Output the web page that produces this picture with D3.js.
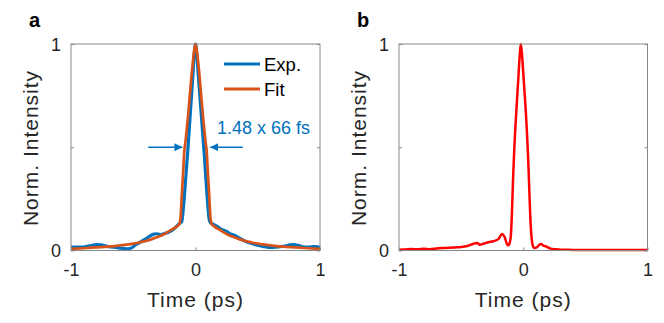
<!DOCTYPE html>
<html lang="en">
<head>
<meta charset="utf-8">
<script src="https://d3js.org/d3.v7.min.js"></script>
<style>
  body { margin: 0; background: #fff; }
  svg { display: block; font-family: "Liberation Sans", Arial, sans-serif; }
</style>
</head>
<body>
<script>
// panel a: measured autocorrelation and its fit
const expTime = [-1.00, -0.96, -0.92, -0.88, -0.84, -0.80, -0.76, -0.72, -0.68, -0.64,
  -0.60, -0.56, -0.52, -0.48, -0.44, -0.40, -0.37, -0.34, -0.31, -0.28, -0.25, -0.21,
  -0.18, -0.15, -0.13, -0.12, -0.11, -0.10, -0.09, -0.08, -0.07, -0.06, -0.05, -0.04,
  -0.03, -0.02, -0.01, 0.00, 0.01, 0.02, 0.03, 0.04, 0.05, 0.06, 0.07, 0.08, 0.09,
  0.10, 0.11, 0.12, 0.14, 0.17, 0.20, 0.23, 0.25, 0.28, 0.32, 0.36, 0.40, 0.44, 0.48,
  0.52, 0.56, 0.60, 0.64, 0.68, 0.72, 0.76, 0.79, 0.83, 0.87, 0.91, 0.95, 0.98, 1.00];
const expIntensity = [0.016, 0.017, 0.016, 0.019, 0.024, 0.028, 0.027, 0.021, 0.017, 0.015,
  0.011, 0.008, 0.011, 0.028, 0.042, 0.056, 0.068, 0.078, 0.081, 0.076, 0.082, 0.090,
  0.102, 0.118, 0.130, 0.135, 0.140, 0.190, 0.260, 0.340, 0.420, 0.500, 0.590, 0.680,
  0.770, 0.860, 0.955, 1.000, 0.955, 0.870, 0.790, 0.710, 0.630, 0.550, 0.470, 0.380, 0.290,
  0.210, 0.150, 0.135, 0.128, 0.118, 0.105, 0.097, 0.092, 0.080, 0.072, 0.057, 0.045, 0.036, 0.028,
  0.023, 0.018, 0.015, 0.016, 0.019, 0.022, 0.027, 0.029, 0.024, 0.017, 0.016, 0.019, 0.018, 0.016];

const fitTime = [-1.00, -0.90, -0.80, -0.70, -0.60, -0.50, -0.45, -0.40, -0.35, -0.30, -0.25,
  -0.20, -0.15, -0.13, -0.12, -0.11, -0.10, -0.09, -0.08, -0.07, -0.06, -0.05, -0.04, -0.03,
  -0.02, -0.01, 0.00, 0.01, 0.02, 0.03, 0.04, 0.05, 0.06, 0.07, 0.08, 0.09, 0.10, 0.11, 0.12,
  0.13, 0.15, 0.20, 0.25, 0.30, 0.35, 0.40, 0.45, 0.50, 0.60, 0.70, 0.80, 0.90, 1.00];
const fitIntensity = [0.008, 0.011, 0.015, 0.019, 0.025, 0.033, 0.039, 0.046, 0.055, 0.066, 0.080,
  0.098, 0.117, 0.128, 0.160, 0.270, 0.370, 0.480, 0.530, 0.590, 0.650, 0.720, 0.790, 0.860,
  0.920, 0.970, 1.000, 0.970, 0.920, 0.860, 0.790, 0.720, 0.650, 0.590, 0.530, 0.480, 0.370, 0.270, 0.160,
  0.128, 0.117, 0.098, 0.080, 0.066, 0.055, 0.046, 0.039, 0.033, 0.025, 0.019, 0.015, 0.011, 0.008];

// panel b: retrieved pulse
const pulseTime = [-1.00, -0.95, -0.90, -0.85, -0.80, -0.75, -0.70, -0.65, -0.60, -0.55, -0.50,
  -0.45, -0.40, -0.37, -0.35, -0.32, -0.28, -0.24, -0.20, -0.17, -0.15, -0.13, -0.12, -0.11,
  -0.10, -0.09, -0.08, -0.07, -0.06, -0.05, -0.04, -0.03, -0.02, -0.01, 0.00, 0.01, 0.02, 0.03,
  0.04, 0.05, 0.06, 0.07, 0.08, 0.09, 0.11, 0.13, 0.145, 0.16, 0.19, 0.22, 0.26, 0.30, 0.40,
  0.50, 0.60, 0.70, 0.80, 0.90, 1.00];
const pulseIntensity = [0.004, 0.005, 0.007, 0.006, 0.008, 0.006, 0.010, 0.012, 0.013, 0.015, 0.017,
  0.022, 0.033, 0.036, 0.028, 0.033, 0.040, 0.045, 0.055, 0.080, 0.065, 0.030, 0.025, 0.035,
  0.070, 0.200, 0.380, 0.520, 0.630, 0.730, 0.830, 0.930, 1.000, 0.950, 0.860, 0.770, 0.680, 0.570,
  0.440, 0.270, 0.120, 0.045, 0.018, 0.012, 0.016, 0.028, 0.031, 0.024, 0.018, 0.009, 0.006, 0.004, 0.003,
  0.002, 0.003, 0.002, 0.003, 0.002, 0.002];

const xTicks = [-1, 0, 1];
const yTicks = [0, 0.5, 1];
const legendLabels = ["Exp.", "Fit"];
const annotation = "1.48 x 66 fs";

const width = 664, height = 323;
const svg = d3.select("body").append("svg")
  .attr("width", width)
  .attr("height", height);

function drawPanel(left, right, letter, series) {
  const x = d3.scaleLinear().domain([-1, 1]).range([left, right]);
  const y = d3.scaleLinear().domain([0, 1]).range([250.5, 44]);
  const g = svg.append("g");

  // curves first, frame on top like matlab
  const line = d3.line().x(d => x(d[0])).y(d => y(d[1])).curve(d3.curveMonotoneX);
  series.forEach(s => {
    g.append("path")
      .datum(d3.zip(s.t, s.v))
      .attr("d", line)
      .attr("fill", "none")
      .attr("stroke", s.color)
      .attr("stroke-width", s.w)
      .attr("stroke-linejoin", "round");
  });

  g.append("rect")
    .attr("x", left).attr("y", y(1))
    .attr("width", right - left).attr("height", y(0) - y(1))
    .attr("fill", "none").attr("stroke", "#888").attr("stroke-width", 1);

  // matlab style labels: plain hyphen, no unicode minus
  const xAxis = g.append("g").attr("transform", `translate(0,${y(0)})`)
    .call(d3.axisBottom(x).tickValues(xTicks).tickSizeInner(-3).tickSizeOuter(0).tickPadding(13)
      .tickFormat(d => String(d)));
  const yAxis = g.append("g").attr("transform", `translate(${left},0)`)
    .call(d3.axisLeft(y).tickValues(yTicks).tickSizeInner(-3).tickSizeOuter(0).tickPadding(10)
      .tickFormat(d => d === 0.5 ? "" : String(d)));
  const yAxisR = g.append("g").attr("transform", `translate(${right},0)`)
    .call(d3.axisRight(y).tickValues(yTicks).tickSizeInner(-3).tickSizeOuter(0).tickFormat(""));
  [xAxis, yAxis, yAxisR].forEach(a => {
    a.select(".domain").remove();
    a.selectAll(".tick line").attr("stroke", "#888");
    a.selectAll("text").attr("font-size", 18).attr("fill", "#262626")
      .attr("font-family", "Liberation Sans, Arial, sans-serif");
  });
  yAxis.selectAll("text").attr("dy", "0.36em");

  g.append("text")
    .attr("x", (left + right) / 2).attr("y", 307)
    .attr("text-anchor", "middle").attr("font-size", 21).attr("letter-spacing", 1)
    .attr("fill", "#262626").text("Time (ps)");
  g.append("text")
    .attr("transform", `translate(${left - 33},148) rotate(-90)`)
    .attr("text-anchor", "middle").attr("font-size", 21).attr("letter-spacing", 1)
    .attr("fill", "#262626").text("Norm. Intensity");
  g.append("text")
    .attr("x", left - 42).attr("y", 27)
    .attr("font-size", 20).attr("font-weight", "bold").attr("fill", "#000").text(letter);
  return {x, y, g};
}

const a = drawPanel(71, 320, "a", [
  {t: expTime, v: expIntensity, color: "#0072BD", w: 3.2},
  {t: fitTime, v: fitIntensity, color: "#D95319", w: 2.7}
]);
drawPanel(399, 647.5, "b", [
  {t: pulseTime, v: pulseIntensity, color: "#FF0000", w: 2.5}
]);

// legend of panel a
const legendColors = ["#0072BD", "#D95319"];
legendLabels.forEach((lab, i) => {
  const ly = 64 + i * 25;
  a.g.append("line").attr("x1", 224).attr("x2", 260).attr("y1", ly).attr("y2", ly)
    .attr("stroke", legendColors[i]).attr("stroke-width", 3);
  a.g.append("text").attr("x", 264).attr("y", ly).attr("dy", "0.36em")
    .attr("font-size", 18.5).attr("fill", "#000").text(lab);
});

// FWHM arrows
const marker = svg.append("defs").append("marker")
  .attr("id", "head").attr("viewBox", "0 0 10 10").attr("refX", 10).attr("refY", 5)
  .attr("markerWidth", 8).attr("markerHeight", 8).attr("markerUnits", "userSpaceOnUse")
  .attr("orient", "auto");
marker.append("path").attr("d", "M0,0 L10,5 L0,10 Z").attr("fill", "#0072BD");
const ay = a.y(0.5);
[[-0.38, -0.105], [0.38, 0.118]].forEach(([from, to]) => {
  a.g.append("line")
    .attr("x1", a.x(from)).attr("x2", a.x(to)).attr("y1", ay).attr("y2", ay)
    .attr("stroke", "#0072BD").attr("stroke-width", 1.3).attr("marker-end", "url(#head)");
});
a.g.append("text").attr("x", 217).attr("y", 134)
  .attr("font-size", 18).attr("fill", "#0072BD").text(annotation);
</script>
</body>
</html>
